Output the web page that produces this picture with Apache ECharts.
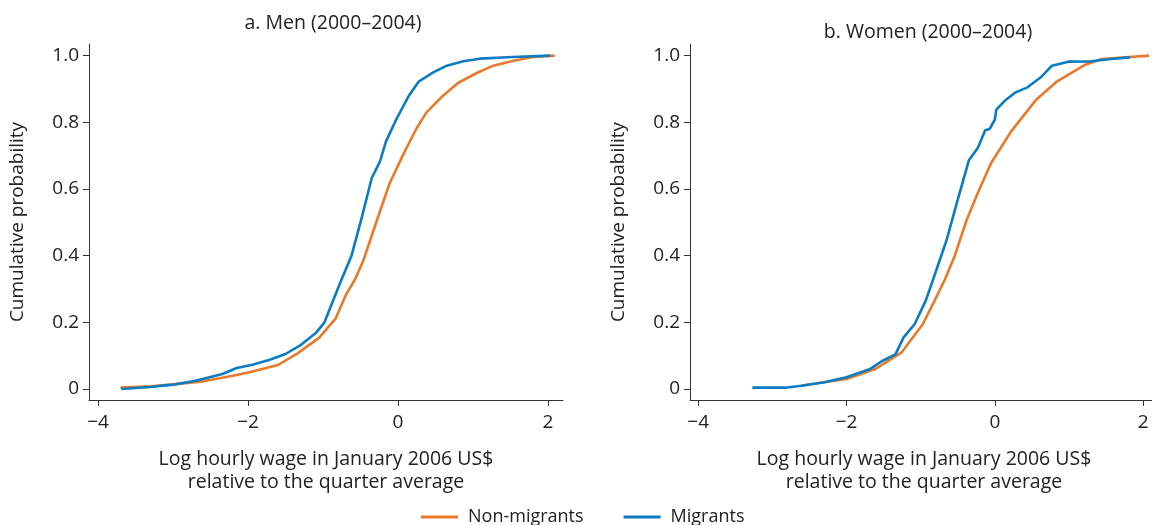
<!DOCTYPE html>
<html>
<head>
<meta charset="utf-8">
<script src="https://cdn.jsdelivr.net/npm/echarts@6/dist/echarts.min.js"></script>
<style>
html,body{margin:0;padding:0;background:#fff;}
#c{width:1152px;height:525px;}
</style>
</head>
<body>
<div id="c"></div>
<script>
// ---- Data ----
var seriesNames = ['Non-migrants', 'Migrants'];
var panelTitles = ['a. Men (2000\u20132004)', 'b. Women (2000\u20132004)'];
var xTickValues = [-4, -2, 0, 2];
var yTickValues = [0, 0.2, 0.4, 0.6, 0.8, 1.0];

var menNonX = [-3.7, -3.3, -3.0, -2.6, -2.2, -1.98, -1.6, -1.34, -1.05, -0.83, -0.7, -0.57, -0.46, -0.28, -0.11, 0.09, 0.25, 0.38, 0.6, 0.8, 1.05, 1.27, 1.54, 1.8, 2.09];
var menNonY = [0.004, 0.008, 0.014, 0.023, 0.04, 0.05, 0.072, 0.107, 0.154, 0.212, 0.28, 0.33, 0.387, 0.507, 0.618, 0.713, 0.783, 0.83, 0.88, 0.918, 0.948, 0.97, 0.985, 0.996, 1.0];

var menMigX = [-3.69, -3.3, -3.0, -2.7, -2.34, -2.15, -1.94, -1.71, -1.5, -1.31, -1.1, -0.98, -0.88, -0.75, -0.62, -0.48, -0.35, -0.24, -0.16, -0.02, 0.14, 0.28, 0.47, 0.65, 0.87, 1.09, 1.53, 2.03];
var menMigY = [0.0, 0.006, 0.013, 0.025, 0.045, 0.063, 0.073, 0.088, 0.105, 0.13, 0.167, 0.2, 0.257, 0.33, 0.40, 0.517, 0.633, 0.683, 0.743, 0.81, 0.878, 0.923, 0.95, 0.97, 0.983, 0.991, 0.996, 1.0];

var womenNonX = [-2.61, -2.3, -2.0, -1.62, -1.26, -0.97, -0.81, -0.67, -0.54, -0.38, -0.23, -0.05, 0.22, 0.55, 0.84, 1.22, 1.44, 2.08];
var womenNonY = [0.01, 0.02, 0.03, 0.059, 0.109, 0.195, 0.266, 0.33, 0.4, 0.507, 0.588, 0.678, 0.773, 0.866, 0.923, 0.973, 0.99, 1.0];

var womenMigX = [-3.27, -2.83, -2.61, -2.3, -2.0, -1.69, -1.52, -1.34, -1.23, -1.08, -0.93, -0.83, -0.65, -0.5, -0.35, -0.23, -0.13, -0.07, 0.0, 0.02, 0.15, 0.28, 0.44, 0.62, 0.77, 0.99, 1.3, 1.57, 1.82];
var womenMigY = [0.004, 0.004, 0.01, 0.02, 0.035, 0.059, 0.084, 0.104, 0.155, 0.195, 0.266, 0.33, 0.447, 0.568, 0.686, 0.723, 0.776, 0.78, 0.808, 0.838, 0.868, 0.89, 0.905, 0.935, 0.97, 0.982, 0.983, 0.99, 0.995];

// ---- Style ----
var ORANGE = '#e87a2a';
var BLUE = '#0a7cc4';
var TEXT = '#222222';
var AXIS = '#333333';
var FONT = '"Open Sans", "Noto Sans", sans-serif';

function zip(xs, ys) { return xs.map(function (x, i) { return [x, ys[i]]; }); }

function xAxisDef(idx, min, max) {
  return {
    type: 'value', gridIndex: idx, min: min, max: max,
    name: 'Log hourly wage in January 2006 US$\nrelative to the quarter average',
    nameLocation: 'middle', nameGap: 48,
    nameTextStyle: { color: TEXT, fontSize: 19.5, fontFamily: FONT, lineHeight: 23 },
    axisLine: { show: true, onZero: false, lineStyle: { color: AXIS, width: 1 } },
    axisTick: { show: true, length: 6, lineStyle: { color: AXIS }, customValues: xTickValues },
    axisLabel: { color: TEXT, fontSize: 19, fontFamily: FONT, margin: 13, customValues: xTickValues,
      formatter: function (v) { return String(v).replace('-', '\u2212'); } },
    splitLine: { show: false }
  };
}
function yAxisDef(idx) {
  return {
    type: 'value', gridIndex: idx, min: -0.033, max: 1.035,
    name: 'Cumulative probability', nameLocation: 'middle', nameGap: 62,
    nameTextStyle: { color: TEXT, fontSize: 19, fontFamily: FONT },
    axisLine: { show: true, onZero: false, lineStyle: { color: AXIS, width: 1 } },
    axisTick: { show: true, length: 6, lineStyle: { color: AXIS }, customValues: yTickValues },
    axisLabel: { color: TEXT, fontSize: 19, fontFamily: FONT, margin: 10, customValues: yTickValues,
      formatter: function (v) { return v === 0 ? '0' : v.toFixed(1); } },
    splitLine: { show: false }
  };
}
function lineSeries(name, color, xi, data) {
  return {
    type: 'line', name: name, xAxisIndex: xi, yAxisIndex: xi,
    data: data, showSymbol: false, symbol: 'none', smooth: false,
    lineStyle: { color: color, width: 2.6 }, itemStyle: { color: color },
    emphasis: { disabled: true }, silent: true, animation: false
  };
}

var chart = echarts.init(document.getElementById('c'), null, { renderer: 'canvas' });
chart.setOption({
  animation: false,
  backgroundColor: '#ffffff',
  title: [
    { text: panelTitles[0], left: 328, top: 8, textAlign: 'center',
      textStyle: { color: TEXT, fontSize: 19.5, fontWeight: 'normal', fontFamily: FONT } },
    { text: panelTitles[1], left: 923, top: 17, textAlign: 'center',
      textStyle: { color: TEXT, fontSize: 19.5, fontWeight: 'normal', fontFamily: FONT } }
  ],
  legend: {
    data: seriesNames, top: 503, left: 416, itemWidth: 37, itemHeight: 3, itemGap: 40,
    icon: 'rect',
    textStyle: { color: TEXT, fontSize: 18, fontFamily: FONT, padding: [0, 0, 0, 5] }
  },
  grid: [
    { left: 89, width: 474, top: 44, height: 356, outerBoundsMode: 'none' },
    { left: 690, width: 468, top: 44, height: 356, outerBoundsMode: 'none' }
  ],
  xAxis: [xAxisDef(0, -4.12, 2.2), xAxisDef(1, -4.11, 2.2)],
  yAxis: [yAxisDef(0), yAxisDef(1)],
  series: [
    lineSeries(seriesNames[0], ORANGE, 0, zip(menNonX, menNonY)),
    lineSeries(seriesNames[1], BLUE, 0, zip(menMigX, menMigY)),
    lineSeries(seriesNames[0], ORANGE, 1, zip(womenNonX, womenNonY)),
    lineSeries(seriesNames[1], BLUE, 1, zip(womenMigX, womenMigY))
  ]
});
</script>
</body>
</html>
